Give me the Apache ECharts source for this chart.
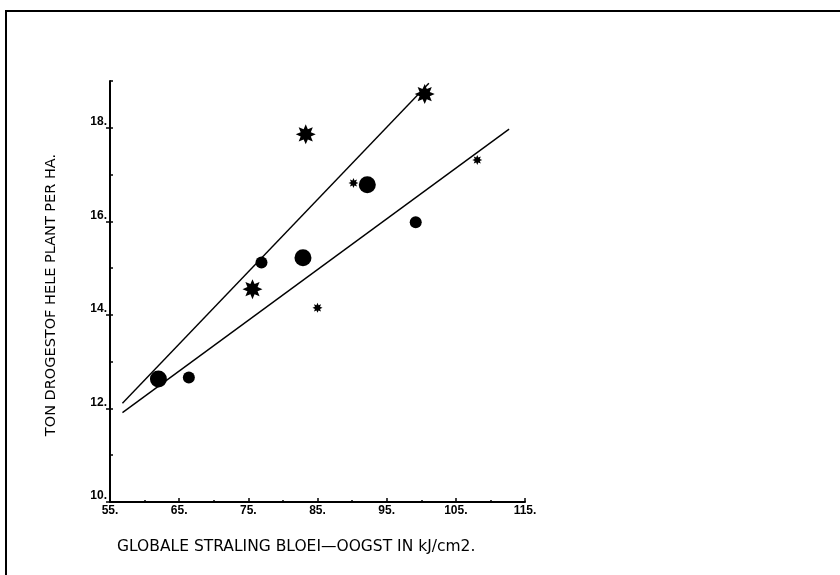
<!DOCTYPE html>
<html>
<head>
<meta charset="utf-8">
<script src="https://cdn.jsdelivr.net/npm/echarts@6/dist/echarts.min.js"></script>
<style>html,body{margin:0;padding:0;background:#fff;}#c{width:840px;height:575px;}</style>
</head>
<body>
<div id="c"></div>
<script>
// ---- data ----
var xTitle = 'GLOBALE STRALING BLOEI\u2014OOGST IN kJ/cm2.';
var yTitle = 'TON DROGESTOF HELE PLANT PER HA.';
var xTicks = [55, 65, 75, 85, 95, 105, 115];
var yTicks = [10, 12, 14, 16, 18];
var largeCircles = [[62.0, 12.63], [82.9, 15.22], [92.2, 16.78]];
var smallCircles = [[66.4, 12.66], [76.9, 15.12], [99.2, 15.98]];
var largeStars = [[75.6, 14.55], [83.3, 17.86], [100.5, 18.72]];
var smallStars = [[85.0, 14.15], [90.2, 16.82], [108.1, 17.31]];
var fitSteep = [[56.8, 12.11], [101.1, 18.95]];
var fitFlat = [[56.8, 11.91], [112.7, 17.97]];

// 8-pointed star symbol
function starPath(points, inner) {
  var s = 'path://';
  for (var i = 0; i < points * 2; i++) {
    var r = (i % 2 === 0) ? 1 : inner;
    var a = Math.PI * i / points - Math.PI / 2;
    s += (i === 0 ? 'M' : 'L') + (r * Math.cos(a)).toFixed(3) + ',' + (r * Math.sin(a)).toFixed(3);
  }
  return s + 'Z';
}
var star = starPath(8, 0.55);

var chart = echarts.init(document.getElementById('c'), null, {renderer: 'canvas'});
var lblFont = {color: '#000', fontFamily: 'Liberation Sans', fontWeight: 'bold', fontSize: 12};
var solid = {color: '#000', opacity: 1};
chart.setOption({
  animation: false,
  backgroundColor: '#fff',
  grid: {left: 110, right: 315, top: 81, bottom: 73},
  xAxis: {
    type: 'value', min: 55, max: 115, interval: 10,
    axisLine: {lineStyle: {color: '#000', width: 2}},
    axisTick: {inside: true, length: 4, lineStyle: {color: '#000', width: 1.5}},
    minorTick: {show: true, splitNumber: 2, length: 2, lineStyle: {color: '#000', width: 1.5}},
    splitLine: {show: false},
    axisLabel: Object.assign({margin: 3, formatter: function (v) { return xTicks.indexOf(v) >= 0 ? v + '.' : ''; }}, lblFont)
  },
  yAxis: [{
    type: 'value', min: 10, max: 19, interval: 1,
    axisLine: {lineStyle: {color: '#000', width: 2}},
    axisTick: {inside: true, length: 3, lineStyle: {color: '#000', width: 1.5}},
    splitLine: {show: false},
    axisLabel: Object.assign({margin: 3, verticalAlign: 'bottom', formatter: function (v) { return yTicks.indexOf(v) >= 0 ? v + '.' : ''; }}, lblFont)
  }, {
    type: 'value', min: 10, max: 19, interval: 1, position: 'left',
    axisLine: {show: false},
    axisTick: {inside: false, length: 4, customValues: yTicks, lineStyle: {color: '#000', width: 1.5}},
    axisLabel: {show: false},
    splitLine: {show: false}
  }],
  series: [
    {type: 'line', data: fitSteep, symbol: 'none', lineStyle: {color: '#000', width: 1.4}, z: 2},
    {type: 'line', data: fitFlat, symbol: 'none', lineStyle: {color: '#000', width: 1.4}, z: 2},
    {type: 'scatter', data: largeCircles, symbol: 'circle', symbolSize: 17, itemStyle: solid, z: 3},
    {type: 'scatter', data: smallCircles, symbol: 'circle', symbolSize: 12, itemStyle: solid, z: 3},
    {type: 'scatter', data: largeStars, symbol: star, symbolSize: 20, itemStyle: solid, z: 3},
    {type: 'scatter', data: smallStars, symbol: star, symbolSize: 10, itemStyle: solid, z: 3}
  ],
  graphic: [
    {type: 'line', shape: {x1: 5, y1: 11, x2: 840, y2: 11}, style: {stroke: '#000', lineWidth: 2}},
    {type: 'line', shape: {x1: 6, y1: 11, x2: 6, y2: 575}, style: {stroke: '#000', lineWidth: 2}},
    {type: 'text', x: 117, y: 547, style: {text: xTitle, fill: '#000', font: '15.5px "DejaVu Sans"', textVerticalAlign: 'middle'}},
    {type: 'text', x: 51, y: 295, rotation: Math.PI / 2, style: {text: yTitle, fill: '#000', font: '14.5px "DejaVu Sans"', textAlign: 'center', textVerticalAlign: 'middle'}}
  ]
});
</script>
</body>
</html>
